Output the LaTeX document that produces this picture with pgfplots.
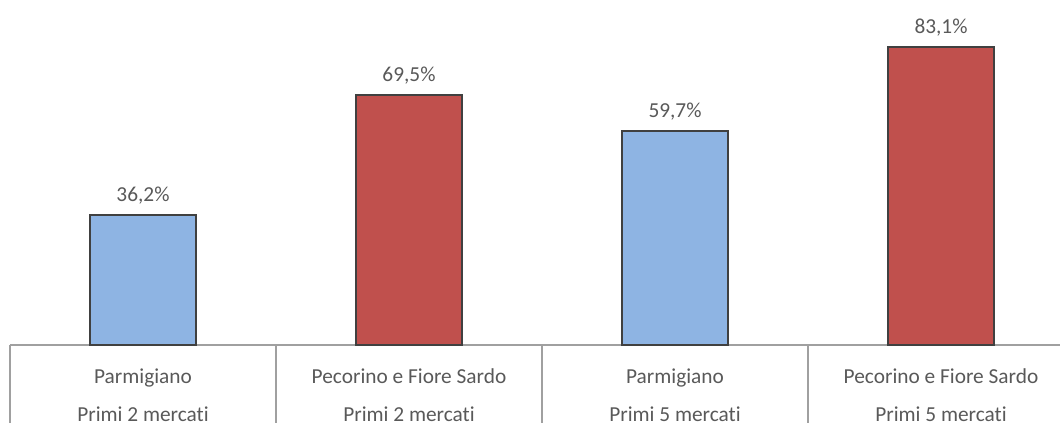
\documentclass[border=0pt]{standalone}
\usepackage{fontspec}
\setmainfont[Ligatures={NoCommon}]{Carlito}
\usepackage{pgfplots}
\pgfplotsset{compat=1.18}
\definecolor{barblue}{HTML}{8EB4E3}
\definecolor{barred}{HTML}{C0504D}
\definecolor{barline}{HTML}{404040}
\definecolor{txt}{HTML}{595959}
\definecolor{axline}{HTML}{A0A0A0}
\begin{document}
\begin{tikzpicture}
\begin{axis}[
  at={(7.5pt,58.5pt)}, anchor=south west,
  scale only axis, width=798pt, height=269.25pt,
  xmin=-0.5, xmax=3.5, ymin=0, ymax=100,
  axis y line=none, axis x line=bottom,
  x axis line style={-, draw=axline, line width=1.1pt},
  ybar, bar width=79.5pt, bar shift=0pt,
  xtick={0,1,2,3},
  xticklabels={{Parmigiano\\Primi 2 mercati},{Pecorino e Fiore Sardo\\Primi 2 mercati},{Parmigiano\\Primi 5 mercati},{Pecorino e Fiore Sardo\\Primi 5 mercati}},
  x tick label style={align=center, font=\fontsize{16}{28.5}\selectfont, text=txt, yshift=-14.25pt},
  major tick length=0pt,
  extra x ticks={-0.5,0.5,1.5,2.5,3.5},
  extra x tick labels={},
  extra x tick style={major tick length=62pt, tick align=outside, tick style={draw=axline, line width=1.1pt}},
  nodes near coords, point meta=explicit symbolic,
  every node near coord/.append style={font=\fontsize{16}{19}\selectfont, text=txt, yshift=4pt},
  clip=false,
]
\addplot[fill=barblue, draw=barline, line width=1.5pt] coordinates {(0,36.2) [36,2\%] (2,59.7) [59,7\%]};
\addplot[fill=barred, draw=barline, line width=1.5pt] coordinates {(1,69.5) [69,5\%] (3,83.1) [83,1\%]};
\end{axis}
\pgfresetboundingbox
\useasboundingbox (0,0) rectangle (795pt,317.25pt);
\end{tikzpicture}
\end{document}
